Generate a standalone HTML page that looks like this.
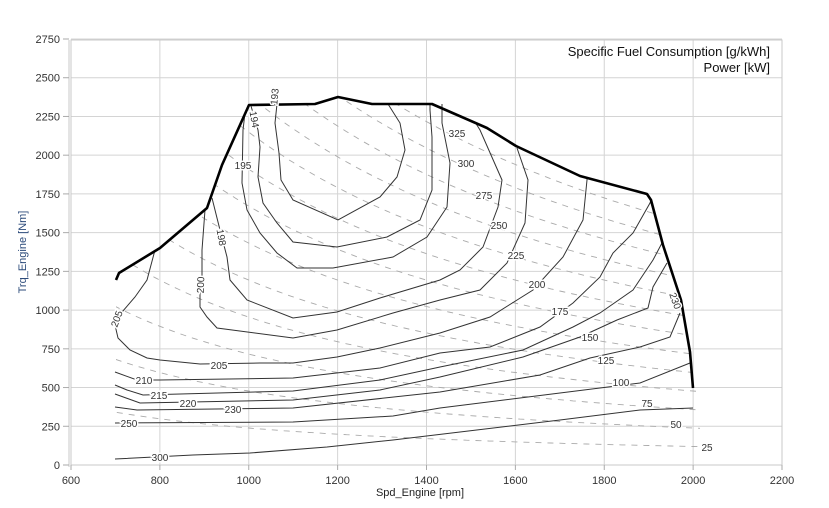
<!DOCTYPE html>
<html><head><meta charset="utf-8"><style>
body{margin:0;background:#fff}
svg{display:block;font-family:"Liberation Sans",sans-serif}
.lb text{paint-order:stroke;stroke:#fff;stroke-width:3px}
</style></head><body>
<svg id="s" width="829" height="508" viewBox="0 0 829 508" xmlns="http://www.w3.org/2000/svg">
<defs><clipPath id="env"><polygon points="116,280 119,273 160,248 207,208 222,165 249,105 315,104 338,97 372,104 432,104 487,128 516,146 580,176 647,194 651,200 663,245 681,300 690,352 693,388 700,388 700,465 116,465"/></clipPath></defs>
<rect x="0" y="0" width="829" height="508" fill="#fff"/>
<g id="grid" stroke="#d4d4d4" stroke-width="1"></g>
<rect x="71" y="40" width="711" height="425" fill="none" stroke="#c8c8c8"/>
<line x1="69" y1="40" x2="69" y2="467" stroke="#c8c8c8"/>
<g id="ticks" font-size="11" fill="#333"></g>
<g id="dash" clip-path="url(#env)" fill="none" stroke="#aaa" stroke-width="0.9" stroke-dasharray="6,6"></g>
<g fill="none" stroke="#333" stroke-width="1">
<polyline points="277,104 275,123 279,153 281,180 293,200 338,220 380,197 397,177 405,150 400,123 388,104"/>
<polyline points="251,106 258,130 260,147 258,177 263,203 277,223 293,242 337,247 387,237 420,220 432,190 432,137 430,110 430,104"/>
<polyline points="245,113 243,130 242,183 247,210 260,233 277,253 297,268 333,268 393,257 427,237 447,207 450,163 442,123 442,104"/>
<polyline points="212,198 220,230 227,257 230,280 247,300 293,318 337,312 380,298 440,280 460,270 483,247 498,207 502,180 480,130 475,122"/>
<polyline points="205,210 202,250 202,280 200,293 200,307 207,317 217,328 293,338 337,330 393,313 440,300 480,290 507,263 525,223 528,180 517,148"/>
<polyline points="155,250 147,280 135,297 122,312 115,325 118,338 130,350 147,358 160,360 200,364 260,363 293,363 337,357 380,348 440,333 490,317 533,290 563,257 583,220 587,180 587,177"/>
<polyline points="115,372 137,380 160,380 293,378 380,368 440,353 490,347 540,327 573,303 600,277 613,253 633,233 650,203 651,200"/>
<polyline points="115,385 127,390 143,395 293,391 380,380 440,367 523,350 573,327 600,313 633,290 653,260 662,243"/>
<polyline points="115,394 140,403 293,400 380,390 440,377 523,357 580,337 617,320 648,308 653,287 667,263"/>
<polyline points="115,407 137,410 293,408 440,392 540,375 590,358 640,347 670,337 680,313"/>
<polyline points="115,423 293,422 393,416 440,408 560,393 640,383 690,363"/>
<polyline points="115,459 193,455 250,453 327,447 393,440 460,432 560,420 640,410 693,408"/>
</g>
<polyline fill="none" stroke="#000" stroke-width="2.6" stroke-linejoin="round" points="116,280 119,273 160,248 207,208 222,165 249,105 315,104 338,97 372,104 432,104 487,128 516,146 580,176 647,194 651,200 663,245 681,300 690,352 693,388"/>
<g class="lb" font-size="10" fill="#333" text-anchor="middle">
<text x="457" y="137">325</text><text x="466" y="167">300</text><text x="484" y="199">275</text><text x="499" y="229">250</text><text x="516" y="259">225</text><text x="537" y="288">200</text><text x="560" y="315">175</text><text x="590" y="341">150</text><text x="606" y="364">125</text><text x="621" y="386">100</text><text x="647" y="407">75</text><text x="676" y="428">50</text><text x="707" y="451">25</text>
<text transform="translate(278,97) rotate(-85)">193</text>
<text transform="translate(251,120) rotate(80)">194</text>
<text x="243" y="169">195</text>
<text transform="translate(218,238) rotate(80)">198</text>
<text transform="translate(204,285) rotate(-88)">200</text>
<text transform="translate(120,320) rotate(-70)">205</text>
<text transform="translate(672,302) rotate(70)">230</text>
<text x="219" y="369">205</text><text x="144" y="384">210</text><text x="159" y="399">215</text><text x="188" y="407">220</text><text x="233" y="413">230</text><text x="129" y="427">250</text><text x="160" y="461">300</text>
</g>
<text x="770" y="56" font-size="13" text-anchor="end" fill="#111">Specific Fuel Consumption [g/kWh]</text>
<text x="770" y="72" font-size="13" text-anchor="end" fill="#111">Power [kW]</text>
<text x="420" y="496" font-size="11" text-anchor="middle" fill="#222">Spd_Engine [rpm]</text>
<text transform="translate(26,252) rotate(-90)" font-size="11" text-anchor="middle" fill="#2b4a7a">Trq_Engine [Nm]</text>
</svg>
<script>
var ns="http://www.w3.org/2000/svg";
function X(n){return 71+(n-600)*0.44438}
function Y(t){return 465-t*0.15491}
var g=document.getElementById('grid'),tk=document.getElementById('ticks'),d=document.getElementById('dash');
function el(p,tag,a,txt){var e=document.createElementNS(ns,tag);for(var k in a)e.setAttribute(k,a[k]);if(txt!=null)e.textContent=txt;p.appendChild(e);return e}
for(var n=600;n<=2200;n+=200){var x=X(n);el(g,'line',{x1:x,y1:40,x2:x,y2:465});el(tk,'line',{x1:x,y1:465,x2:x,y2:470,stroke:'#aaa'});el(tk,'text',{x:x,y:484,'text-anchor':'middle'},n)}
for(var t=0;t<=2750;t+=250){var y=Y(t);el(g,'line',{x1:71,y1:y,x2:782,y2:y});el(tk,'line',{x1:63,y1:y,x2:69,y2:y,stroke:'#aaa'});el(tk,'text',{x:60,y:y+4,'text-anchor':'end'},t)}
for(var P=25;P<=350;P+=25){var pts=[];for(var n=650;n<=2050;n+=10){var T=P*9549/n;if(T>2800)continue;pts.push(X(n).toFixed(1)+','+Y(T).toFixed(1))}el(d,'polyline',{points:pts.join(' ')})}
</script>
</body></html>
